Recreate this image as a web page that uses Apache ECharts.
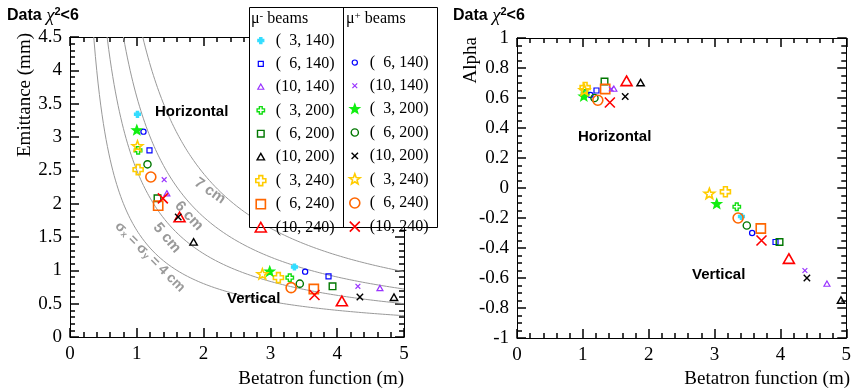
<!DOCTYPE html>
<html>
<head>
<meta charset="utf-8">
<script src="https://cdn.jsdelivr.net/npm/echarts@6/dist/echarts.min.js"></script>
<style>
  html, body { margin: 0; padding: 0; background: #fff; }
  .layer { position: absolute; left: 0; top: 0; width: 854px; height: 390px; }
</style>
</head>
<body>
<div id="frame" class="layer"></div>
<div id="main" class="layer"></div>
<script>
// beams: (emittance mm, momentum MeV/c), mu- first then mu+
const beams = ['m3_140', 'm6_140', 'm10_140', 'm3_200', 'm6_200', 'm10_200', 'm3_240', 'm6_240', 'm10_240',
               'p6_140', 'p10_140', 'p3_200', 'p6_200', 'p10_200', 'p3_240', 'p6_240', 'p10_240'];
const beamLabels = ['(\u20073, 140)', '(\u20076, 140)', '(10, 140)', '(\u20073, 200)', '(\u20076, 200)', '(10, 200)',
                    '(\u20073, 240)', '(\u20076, 240)', '(10, 240)',
                    '(\u20076, 140)', '(10, 140)', '(\u20073, 200)', '(\u20076, 200)', '(10, 200)',
                    '(\u20073, 240)', '(\u20076, 240)', '(10, 240)'];

// horizontal plane
const betaX  = [1.01, 1.19, 1.45, 1.02, 1.31, 1.85, 1.02, 1.32, 1.64, 1.10, 1.41, 1.00, 1.16, 1.62, 1.01, 1.21, 1.39];
const emitX  = [3.34, 2.80, 2.15, 2.80, 2.08, 1.42, 2.51, 1.97, 1.79, 3.08, 2.36, 3.10, 2.59, 1.80, 2.86, 2.40, 2.08];
const alphaX = [0.63, 0.65, 0.66, 0.63, 0.71, 0.70, 0.67, 0.66, 0.71, 0.62, 0.66, 0.61, 0.60, 0.61, 0.65, 0.585, 0.57];
// vertical plane
const betaY  = [3.36, 3.87, 4.64, 3.29, 3.93, 4.85, 3.12, 3.65, 4.07, 3.52, 4.31, 2.99, 3.44, 4.34, 2.88, 3.31, 3.66];
const emitY  = [1.05, 0.91, 0.73, 0.89, 0.76, 0.59, 0.89, 0.72, 0.53, 0.98, 0.76, 0.98, 0.80, 0.60, 0.94, 0.74, 0.63];
const alphaY = [-0.19, -0.36, -0.64, -0.125, -0.36, -0.75, -0.025, -0.27, -0.475, -0.30, -0.55, -0.107, -0.25, -0.60, -0.04, -0.20, -0.35];

// iso-sigma lines: sigma_x = sigma_y (cm), emittance = sigma^2 / (10 * beta)
const sigmas = [4, 5, 6, 7];

const xRange = { min: 0, max: 5, interval: 1 };
const emitRange = { min: 0, max: 4.5, interval: 0.5 };
const alphaRange = { min: -1, max: 1, interval: 0.2 };

// marker look per beam
const markers = [
  ['cross', 3, '#33ddff', true], ['square', 2.5, '#0000ff'], ['tri', 3, '#9933ff'],
  ['cross', 3.7, '#11dd11'], ['square', 3.3, '#007700'], ['tri', 3.7, '#000000'],
  ['cross', 5, '#ffcc00'], ['square', 4.6, '#ff6600'], ['tri', 5.5, '#ff0000'],
  ['circle', 2.6, '#0000ff'], ['x', 2.4, '#9933ff'], ['star', 4.8, '#11ee11', true],
  ['circle', 3.6, '#007700'], ['x', 3.2, '#000000'], ['star', 5.6, '#ffcc00'],
  ['circle', 5, '#ff6600'], ['x', 5, '#ff0000']
];

function poly(pts) {
  return 'M' + pts.map(p => p[0].toFixed(2) + ' ' + p[1].toFixed(2)).join('L') + 'Z';
}
function shapePath(kind, r) {
  const c = 10;
  let p = '';
  if (kind === 'square') {
    p = poly([[c - r, c - r], [c + r, c - r], [c + r, c + r], [c - r, c + r]]);
  } else if (kind === 'tri') {
    p = poly([[c, c - r], [c + r, c + r * 0.75], [c - r, c + r * 0.75]]);
  } else if (kind === 'cross') {
    const a = r * 0.38;
    p = poly([[c - a, c - r], [c + a, c - r], [c + a, c - a], [c + r, c - a], [c + r, c + a], [c + a, c + a],
              [c + a, c + r], [c - a, c + r], [c - a, c + a], [c - r, c + a], [c - r, c - a], [c - a, c - a]]);
  } else if (kind === 'circle') {
    p = `M${c - r} ${c}A${r} ${r} 0 1 0 ${c + r} ${c}A${r} ${r} 0 1 0 ${c - r} ${c}Z`;
  } else if (kind === 'x') {
    p = `M${c - r} ${c - r}L${c + r} ${c + r}M${c + r} ${c - r}L${c - r} ${c + r}`;
  } else if (kind === 'star') {
    const pts = [];
    for (let k = 0; k < 10; k++) {
      const ang = -Math.PI / 2 + k * Math.PI / 5;
      const rr = k % 2 ? r * 0.42 : r;
      pts.push([c + rr * Math.cos(ang), c + rr * Math.sin(ang)]);
    }
    p = poly(pts);
  }
  // fixed 20x20 box so every symbol keeps its own size
  return 'path://M0 0M20 20' + p;
}

const serif = 'Liberation Serif';
const sans = 'Liberation Sans';
const grids = [
  { left: 70, top: 37, width: 334, height: 300 },
  { left: 517, top: 38, width: 334, height: 300 }
];

// ---- frame layer: the four-sided ROOT style axes with inward ticks ----
function frameAxis(extra, labels, minorSplit) {
  return Object.assign({
    type: 'value',
    axisLine: { show: true, onZero: false, lineStyle: { color: '#000', width: 1 } },
    axisTick: { show: true, inside: true, length: 9, lineStyle: { color: '#000', width: 1.5 } },
    minorTick: { show: true, splitNumber: minorSplit, length: 5, lineStyle: { color: '#000', width: 1.5 } },
    splitLine: { show: false },
    axisLabel: labels
      ? { show: true, fontFamily: serif, fontSize: 19, color: '#000', margin: 8 }
      : { show: false }
  }, extra);
}
const frameChart = echarts.init(document.getElementById('frame'));
frameChart.setOption({
  animation: false,
  grid: grids,
  xAxis: [
    frameAxis(Object.assign({ gridIndex: 0, position: 'bottom' }, xRange), true, 5),
    frameAxis(Object.assign({ gridIndex: 0, position: 'top' }, xRange), false, 5),
    frameAxis(Object.assign({ gridIndex: 1, position: 'bottom' }, xRange), true, 5),
    frameAxis(Object.assign({ gridIndex: 1, position: 'top' }, xRange), false, 5)
  ],
  yAxis: [
    frameAxis(Object.assign({ gridIndex: 0, position: 'left' }, emitRange), true, 5),
    frameAxis(Object.assign({ gridIndex: 0, position: 'right' }, emitRange), false, 5),
    frameAxis(Object.assign({ gridIndex: 1, position: 'left' }, alphaRange), true, 4),
    frameAxis(Object.assign({ gridIndex: 1, position: 'right' }, alphaRange), false, 4)
  ],
  series: []
});

// ---- data layer ----
function plainAxis(extra) {
  return Object.assign({
    type: 'value',
    axisLine: { show: false }, axisTick: { show: false }, axisLabel: { show: false }, splitLine: { show: false }
  }, extra);
}

const series = [];
sigmas.forEach(s => {
  const pts = [];
  const b0 = s * s / 45;
  pts.push([b0, 4.5]);
  for (let b = Math.ceil(b0 * 100) / 100; b <= 5.0001; b += 0.02) pts.push([b, s * s / (10 * b)]);
  series.push({
    type: 'line', xAxisIndex: 0, yAxisIndex: 0, data: pts, showSymbol: false, silent: true,
    lineStyle: { color: '#999', width: 1 }, z: 1
  });
});

beams.forEach((name, i) => {
  const m = markers[i];
  const lw = name.endsWith('240') ? 1.6 : (name.endsWith('200') ? 1.4 : 1.2);
  const common = {
    type: 'scatter', name: name, symbol: shapePath(m[0], m[1]), symbolSize: 20,
    itemStyle: { color: m[3] ? m[2] : 'rgba(0,0,0,0)', borderColor: m[2], borderWidth: lw, opacity: 1 },
    z: 5
  };
  series.push(Object.assign({}, common, {
    xAxisIndex: 0, yAxisIndex: 0, data: [[betaX[i], emitX[i]], [betaY[i], emitY[i]]]
  }));
  series.push(Object.assign({}, common, {
    xAxisIndex: 1, yAxisIndex: 1, data: [[betaX[i], alphaX[i]], [betaY[i], alphaY[i]]]
  }));
});

const legendCommon = {
  orient: 'vertical', padding: 0, itemWidth: 20, itemHeight: 20, itemGap: 2, itemTextGap: 3,
  selectedMode: false, z: 120,
  itemStyle: { borderWidth: 'inherit' },
  textStyle: { fontFamily: serif, fontSize: 16, color: '#000' },
  formatter: name => beamLabels[beams.indexOf(name)]
};

const titleRich = {
  b: { fontFamily: sans, fontWeight: 'bold', fontSize: 16, fill: '#000' },
  c: { fontFamily: serif, fontStyle: 'italic', fontSize: 19, fill: '#000' },
  s: { fontFamily: sans, fontWeight: 'bold', fontSize: 11, fill: '#000', verticalAlign: 'top', lineHeight: 11 }
};
const gray = '#9a9a9a';
const curveRich = {
  n: { fontFamily: sans, fontWeight: 'bold', fontSize: 14, fill: gray },
  s: { fontFamily: sans, fontWeight: 'bold', fontSize: 9, fill: gray, verticalAlign: 'bottom', lineHeight: 8 }
};
const supRich = {
  n: { fontFamily: serif, fontSize: 16, fill: '#000' },
  s: { fontFamily: serif, fontSize: 11, fill: '#000', verticalAlign: 'top', lineHeight: 10 }
};

function txt(x, y, text, opt) {
  return {
    type: 'text', x: x, y: y, z: 50,
    style: Object.assign({ text: text, fill: '#000', align: 'left', verticalAlign: 'middle' }, opt)
  };
}
const deg = Math.PI / 180;
const grayBold = { fontFamily: sans, fontWeight: 'bold', fontSize: 15, fill: gray, align: 'center' };
const planeFont = { fontFamily: sans, fontWeight: 'bold', fontSize: 15 };

const myChart = echarts.init(document.getElementById('main'));
myChart.setOption({
  animation: false,
  backgroundColor: 'transparent',
  grid: grids,
  xAxis: [
    plainAxis(Object.assign({ gridIndex: 0 }, xRange)),
    plainAxis(Object.assign({ gridIndex: 1 }, xRange))
  ],
  yAxis: [
    plainAxis(Object.assign({ gridIndex: 0 }, emitRange)),
    plainAxis(Object.assign({ gridIndex: 1 }, alphaRange))
  ],
  legend: [
    Object.assign({}, legendCommon, { left: 250, top: 30, data: beams.slice(0, 9) }),
    Object.assign({}, legendCommon, { left: 344, top: 52, data: beams.slice(9) })
  ],
  series: series,
  graphic: [
    // titles
    txt(7, 16, '{b|Data }{c|χ}{s|2}{b|<6}', { rich: titleRich }),
    txt(453, 16, '{b|Data }{c|χ}{s|2}{b|<6}', { rich: titleRich }),
    // axis titles
    Object.assign(txt(25, 33, 'Emittance (mm)', { fontFamily: serif, fontSize: 19, align: 'right' }), { rotation: Math.PI / 2 }),
    Object.assign(txt(471, 37, 'Alpha', { fontFamily: serif, fontSize: 19, align: 'right' }), { rotation: Math.PI / 2 }),
    txt(404, 379, 'Betatron function (m)', { fontFamily: serif, fontSize: 19, align: 'right' }),
    txt(850, 379, 'Betatron function (m)', { fontFamily: serif, fontSize: 19, align: 'right' }),
    // plane labels
    txt(155, 112, 'Horizontal', planeFont),
    txt(227, 299, 'Vertical', planeFont),
    txt(578, 137, 'Horizontal', planeFont),
    txt(692, 275, 'Vertical', planeFont),
    // iso-sigma labels
    Object.assign(txt(210, 191, '7 cm', grayBold), { rotation: -35 * deg }),
    Object.assign(txt(189, 216, '6 cm', grayBold), { rotation: -47 * deg }),
    Object.assign(txt(167, 238, '5 cm', grayBold), { rotation: -50 * deg }),
    Object.assign(txt(150, 257, '{n|σ}{s|x}{n| = σ}{s|y}{n| = 4 cm}', { rich: curveRich, align: 'center' }), { rotation: -45 * deg }),
    // legend frame
    { type: 'rect', z: 100, shape: { x: 249.5, y: 7.5, width: 188, height: 220 },
      style: { fill: '#fff', stroke: '#000', lineWidth: 1 } },
    { type: 'line', z: 101, shape: { x1: 343.5, y1: 7.5, x2: 343.5, y2: 227.5 },
      style: { stroke: '#000', lineWidth: 1 } },
    Object.assign(txt(251, 19, '{n|μ}{s|-}{n| beams}', { rich: supRich }), { z: 110 }),
    Object.assign(txt(346, 19, '{n|μ}{s|+}{n| beams}', { rich: supRich }), { z: 110 })
  ]
});
</script>
</body>
</html>
